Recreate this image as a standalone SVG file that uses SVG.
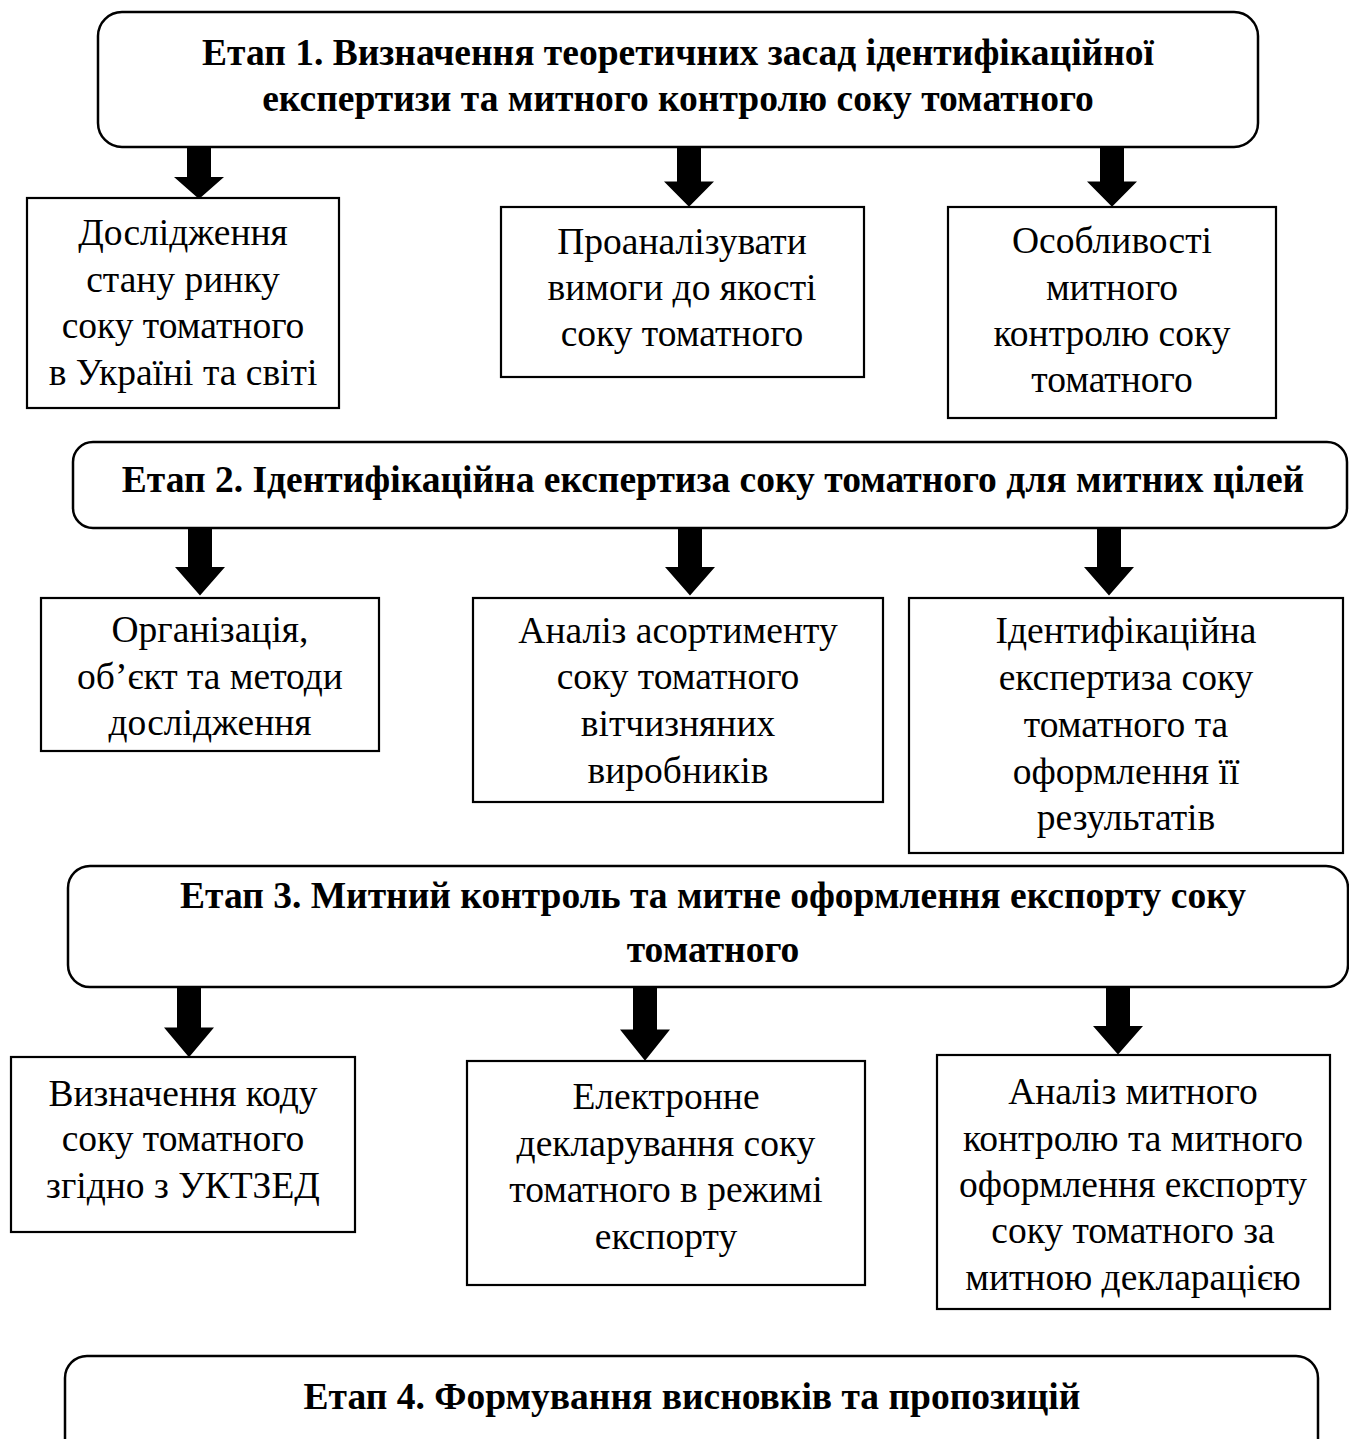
<svg xmlns="http://www.w3.org/2000/svg" width="1349" height="1439" viewBox="0 0 1349 1439">
<style>
.stage{fill:#fff;stroke:#000;stroke-width:2.5}
.box{fill:#fff;stroke:#000;stroke-width:2.2}
.h{font-family:"Liberation Serif","Times New Roman",serif;font-size:37.5px;font-weight:bold;text-anchor:middle;fill:#000}
.t{font-family:"Liberation Serif","Times New Roman",serif;font-size:37.5px;text-anchor:middle;fill:#000}
.arr{fill:#000}
</style>
<defs>
<path id="arrow" d="M-12,0 L12,0 L12,30 L25,30 L0,52 L-25,30 L-12,30 Z"/>
</defs>
<rect width="1349" height="1439" fill="#fff"/>

<g id="connectors">
<use href="#arrow" class="arr" transform="translate(199,147) scale(1,1)"/>
<use href="#arrow" class="arr" transform="translate(689,147) scale(1,1.15)"/>
<use href="#arrow" class="arr" transform="translate(1112,147) scale(1,1.15)"/>
<use href="#arrow" class="arr" transform="translate(200,528) scale(1,1.3)"/>
<use href="#arrow" class="arr" transform="translate(690,528) scale(1,1.3)"/>
<use href="#arrow" class="arr" transform="translate(1109,528) scale(1,1.3)"/>
<use href="#arrow" class="arr" transform="translate(189,987) scale(1,1.35)"/>
<use href="#arrow" class="arr" transform="translate(645,987) scale(1,1.42)"/>
<use href="#arrow" class="arr" transform="translate(1118,987) scale(1,1.3)"/>
</g>

<g id="stage1">
<rect class="stage" x="98" y="12" width="1160" height="135" rx="24"/>
<text class="h" x="678" y="65">Етап 1. Визначення теоретичних засад ідентифікаційної</text>
<text class="h" x="678" y="111">експертизи та митного контролю соку томатного</text>
</g>

<g id="boxA">
<rect class="box" x="27" y="198" width="312" height="210"/>
<text class="t" x="183" y="245">Дослідження</text>
<text class="t" x="183" y="292">стану ринку</text>
<text class="t" x="183" y="338">соку томатного</text>
<text class="t" x="183" y="385">в Україні та світі</text>
</g>

<g id="boxB">
<rect class="box" x="501" y="207" width="363" height="170"/>
<text class="t" x="682" y="254">Проаналізувати</text>
<text class="t" x="682" y="300">вимоги до якості</text>
<text class="t" x="682" y="346">соку томатного</text>
</g>

<g id="boxC">
<rect class="box" x="948" y="207" width="328" height="211"/>
<text class="t" x="1112" y="253">Особливості</text>
<text class="t" x="1112" y="300">митного</text>
<text class="t" x="1112" y="346">контролю соку</text>
<text class="t" x="1112" y="392">томатного</text>
</g>

<g id="stage2">
<rect class="stage" x="73" y="442" width="1274" height="86" rx="20"/>
<text class="h" x="713" y="492">Етап 2. Ідентифікаційна експертиза соку томатного для митних цілей</text>
</g>

<g id="boxD">
<rect class="box" x="41" y="598" width="338" height="153"/>
<text class="t" x="210" y="642">Організація,</text>
<text class="t" x="210" y="689">об’єкт та методи</text>
<text class="t" x="210" y="735">дослідження</text>
</g>

<g id="boxE">
<rect class="box" x="473" y="598" width="410" height="204"/>
<text class="t" x="678" y="643">Аналіз асортименту</text>
<text class="t" x="678" y="689">соку томатного</text>
<text class="t" x="678" y="736">вітчизняних</text>
<text class="t" x="678" y="783">виробників</text>
</g>

<g id="boxF">
<rect class="box" x="909" y="598" width="434" height="255"/>
<text class="t" x="1126" y="643">Ідентифікаційна</text>
<text class="t" x="1126" y="690">експертиза соку</text>
<text class="t" x="1126" y="737">томатного та</text>
<text class="t" x="1126" y="784">оформлення її</text>
<text class="t" x="1126" y="830">результатів</text>
</g>

<g id="stage3">
<rect class="stage" x="68" y="866" width="1280" height="121" rx="22"/>
<text class="h" x="713" y="908">Етап 3. Митний контроль та митне оформлення експорту соку</text>
<text class="h" x="713" y="962">томатного</text>
</g>

<g id="boxG">
<rect class="box" x="11" y="1057" width="344" height="175"/>
<text class="t" x="183" y="1106">Визначення коду</text>
<text class="t" x="183" y="1151">соку томатного</text>
<text class="t" x="183" y="1198">згідно з УКТЗЕД</text>
</g>

<g id="boxH">
<rect class="box" x="467" y="1061" width="398" height="224"/>
<text class="t" x="666" y="1109">Електронне</text>
<text class="t" x="666" y="1156">декларування соку</text>
<text class="t" x="666" y="1202">томатного в режимі</text>
<text class="t" x="666" y="1249">експорту</text>
</g>

<g id="boxI">
<rect class="box" x="937" y="1055" width="393" height="254"/>
<text class="t" x="1133" y="1104">Аналіз митного</text>
<text class="t" x="1133" y="1151">контролю та митного</text>
<text class="t" x="1133" y="1197">оформлення експорту</text>
<text class="t" x="1133" y="1243">соку томатного за</text>
<text class="t" x="1133" y="1290">митною декларацією</text>
</g>

<g id="stage4">
<rect class="stage" x="65" y="1356" width="1253" height="110" rx="22"/>
<text class="h" x="692" y="1409">Етап 4. Формування висновків та пропозицій</text>
</g>
</svg>
